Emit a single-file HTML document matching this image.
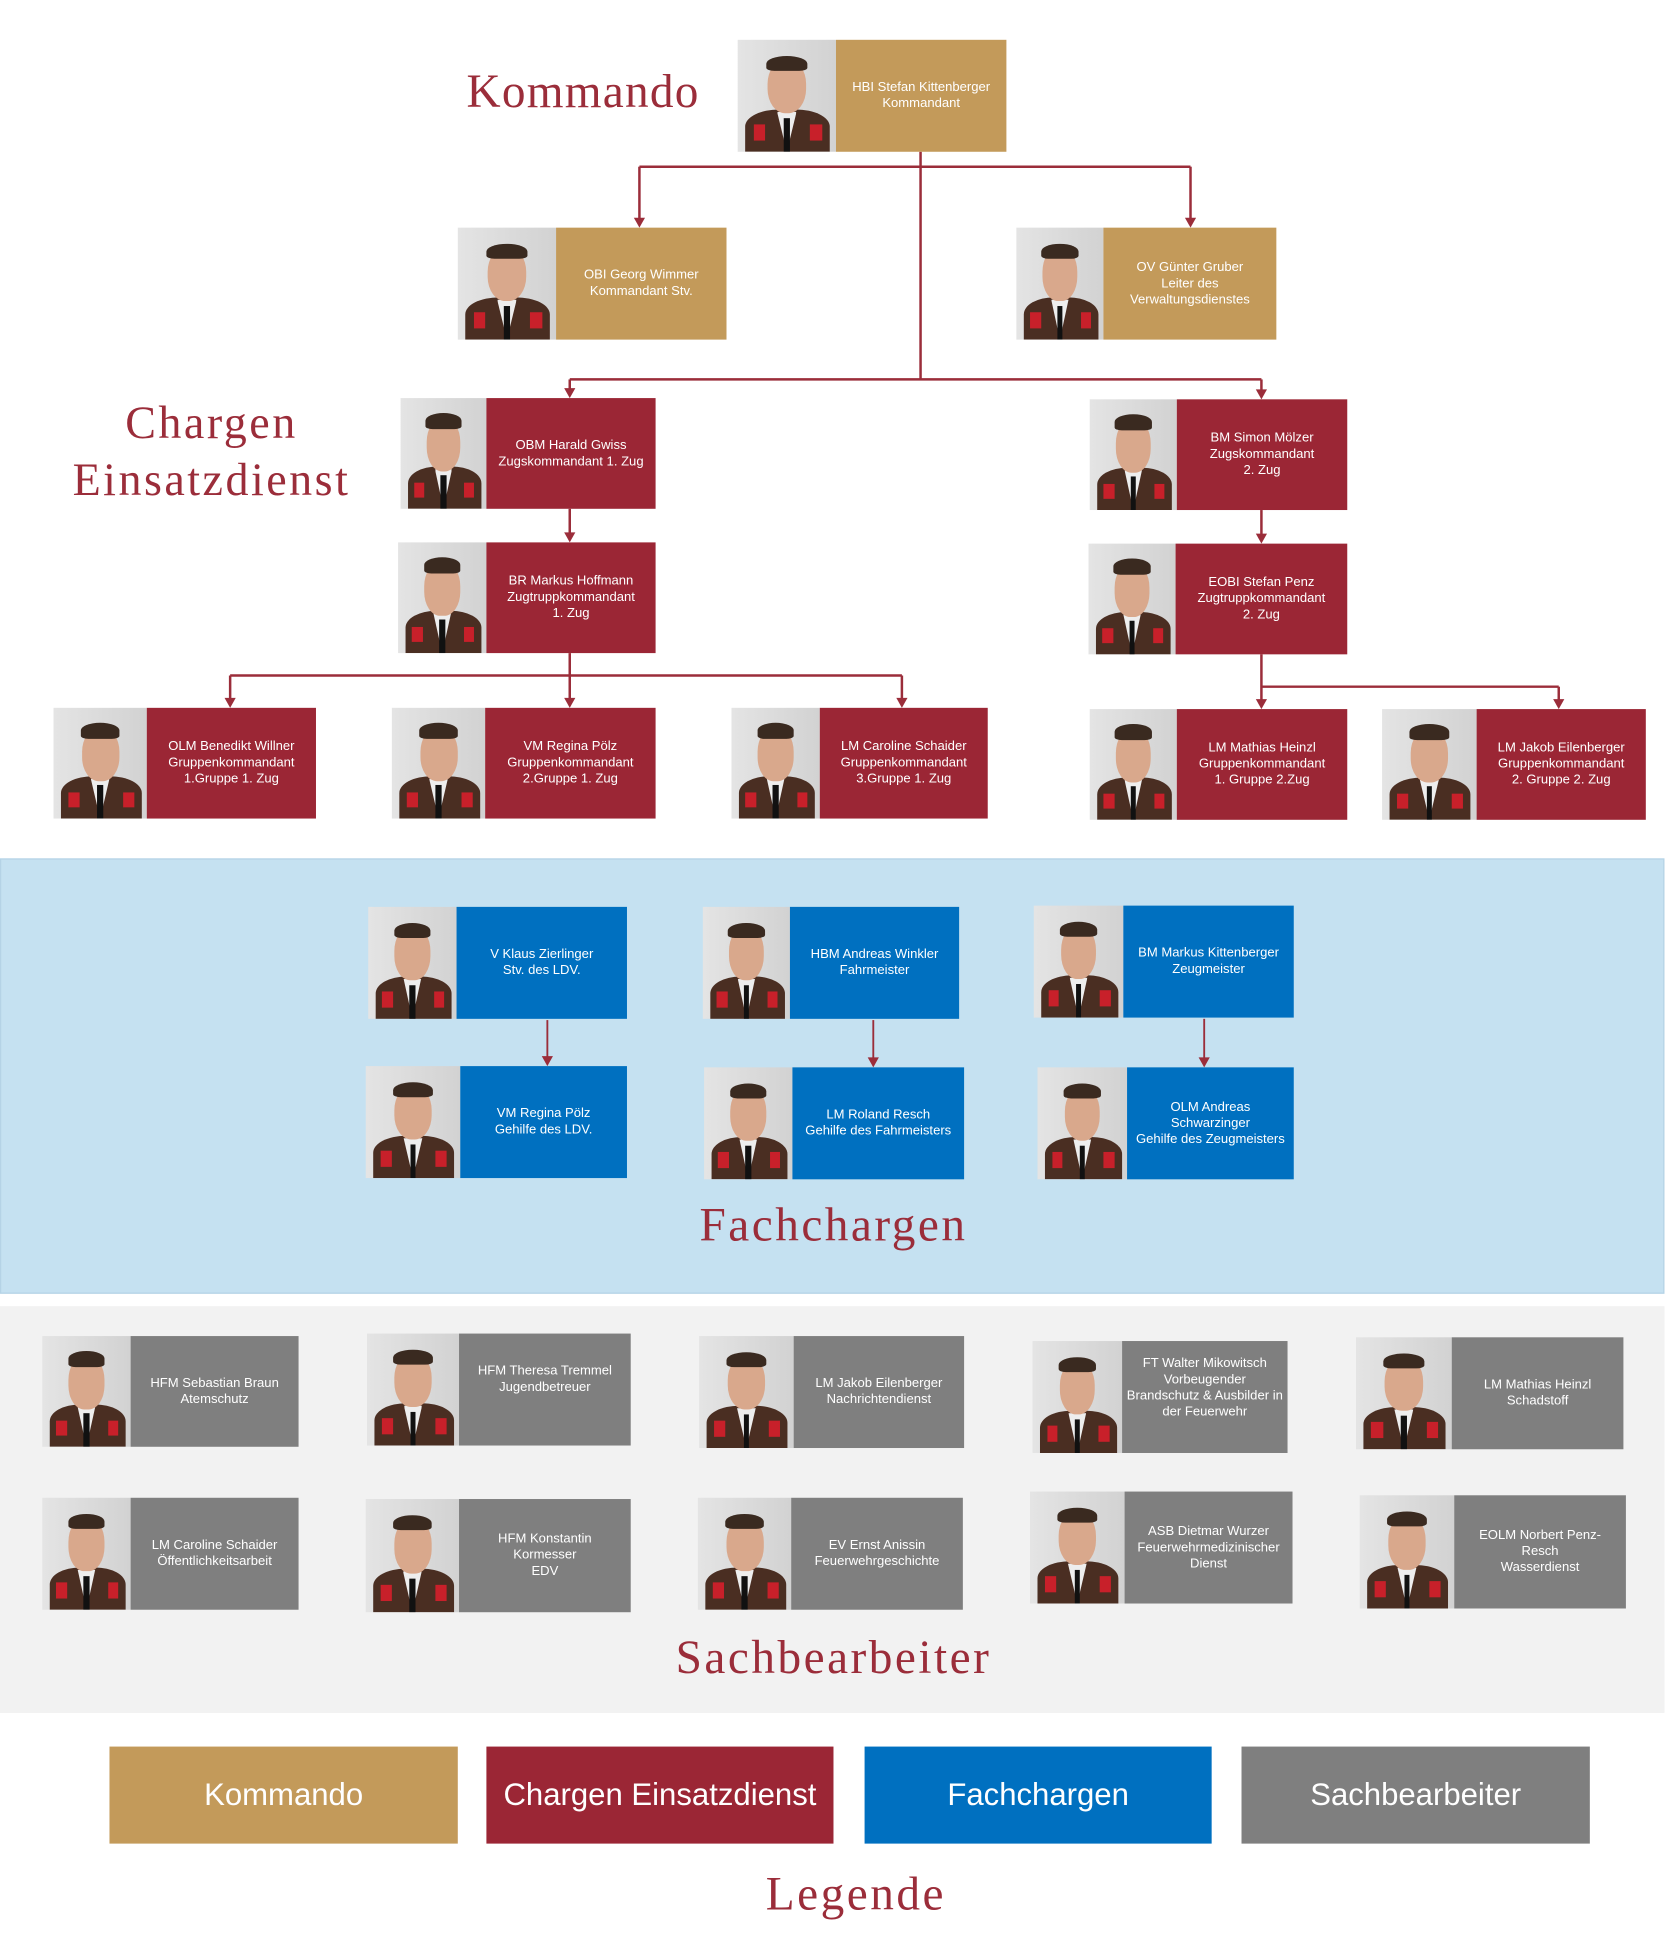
<!DOCTYPE html>
<html><head><meta charset="utf-8"><style>
html,body{margin:0;padding:0;background:#fff;width:1667px;height:1952px;overflow:hidden}
#w{position:absolute;left:0;top:0;width:1340px;height:1569px;transform:scale(1.2440,1.2440);transform-origin:0 0}
.a{position:absolute}
.ph{position:absolute;overflow:hidden;background:linear-gradient(90deg,#e4e4e4,#d2d2d2)}
.ph .bd{position:absolute;left:8%;right:6%;bottom:0;height:38%;background:#4a2e22;border-radius:40% 40% 0 0}
.ph .sh{position:absolute;left:40%;width:20%;bottom:0;height:36%;background:#eee;clip-path:polygon(0 0,100% 0,50% 100%)}
.ph .ti{position:absolute;left:47%;width:6%;bottom:0;height:30%;background:#111}
.ph .fc{position:absolute;left:30%;width:40%;top:18%;height:48%;background:#d9a88c;border-radius:45%}
.ph .hr{position:absolute;left:29%;width:42%;top:14%;height:14%;background:#3a2a20;border-radius:50% 50% 20% 20%}
.ph .c1,.ph .c2{position:absolute;bottom:10%;width:12%;height:14%;background:#c8202a}
.ph .c1{left:16%}.ph .c2{right:14%}
.tx{position:absolute;color:#fff;font-family:"Liberation Sans",sans-serif;font-size:10.5px;line-height:13px;display:flex;align-items:center;justify-content:center;text-align:center}
.g{background:#c39a5a}.r{background:#9b2635}.b{background:#0070c0}.y{background:#7f7f7f}
.tt{position:absolute;font-family:"Liberation Serif",serif;color:#9b2d3a;letter-spacing:2px;white-space:nowrap;text-align:center}
.lg{position:absolute;color:#fff;font-family:"Liberation Sans",sans-serif;font-size:25px;display:flex;align-items:center;justify-content:center;top:1404px;height:78px}
</style></head><body><div id="w">

<div class="a" style="left:0;top:690px;width:1338px;height:350px;background:#c5e1f1;border:1px solid #b5d3e6;box-sizing:border-box"></div>
<div class="a" style="left:0;top:1050px;width:1338px;height:327px;background:#f2f2f2"></div>

<div class="tt" style="left:375px;top:52px;font-size:38px;letter-spacing:1px">Kommando</div>
<div class="tt" style="left:50px;top:318px;width:240px;font-size:37px;line-height:46px">Chargen<br>Einsatzdienst</div>
<div class="tt" style="left:520px;top:963px;width:300px;font-size:38px">Fachchargen</div>
<div class="tt" style="left:520px;top:1311px;width:300px;font-size:38px">Sachbearbeiter</div>
<div class="tt" style="left:560px;top:1501px;width:256px;font-size:38px">Legende</div>

<svg class="a" style="left:0;top:0" width="1340" height="1569">
<g stroke="#9b2d3a" stroke-width="2" fill="none">
<path d="M740,122 V305"/><path d="M514,134 H957"/>
<path d="M514,134 V176"/><path d="M957,134 V176"/>
<path d="M458,305 H1014"/>
<path d="M458,305 V313"/><path d="M1014,305 V314"/>
<path d="M458,409 V429"/><path d="M1014,410 V430"/>
<path d="M458,525 V562"/><path d="M185,543 H725"/>
<path d="M185,543 V562"/><path d="M725,543 V562"/>
<path d="M1014,526 V563"/><path d="M1014,552 H1253"/><path d="M1253,552 V563"/>
<path d="M440,820 V850" stroke-width="1.5"/>
<path d="M702,820 V851" stroke-width="1.5"/>
<path d="M968,819 V851" stroke-width="1.5"/>
</g>
<g fill="#9b2d3a">
<polygon points="509.5,175 518.5,175 514,183"/>
<polygon points="952.5,175 961.5,175 957,183"/>
<polygon points="453.5,312 462.5,312 458,320"/>
<polygon points="1009.5,313 1018.5,313 1014,321"/>
<polygon points="453.5,428 462.5,428 458,436"/>
<polygon points="1009.5,429 1018.5,429 1014,437"/>
<polygon points="453.5,561 462.5,561 458,569"/>
<polygon points="180.5,561 189.5,561 185,569"/>
<polygon points="720.5,561 729.5,561 725,569"/>
<polygon points="1009.5,562 1018.5,562 1014,570"/>
<polygon points="1248.5,562 1257.5,562 1253,570"/>
<polygon points="435.5,849 444.5,849 440,857"/>
<polygon points="697.5,850 706.5,850 702,858"/>
<polygon points="963.5,850 972.5,850 968,858"/>
</g></svg>

<div class="ph" style="left:593px;top:32px;width:79px;height:90px"><div class="bd"></div><div class="sh"></div><div class="ti"></div><div class="c1"></div><div class="c2"></div><div class="fc"></div><div class="hr"></div></div>
<div class="tx g" style="left:672px;top:32px;width:137px;height:90px">HBI Stefan Kittenberger<br>Kommandant</div>

<div class="ph" style="left:368px;top:183px;width:79px;height:90px"><div class="bd"></div><div class="sh"></div><div class="ti"></div><div class="c1"></div><div class="c2"></div><div class="fc"></div><div class="hr"></div></div>
<div class="tx g" style="left:447px;top:183px;width:137px;height:90px">OBI Georg Wimmer<br>Kommandant Stv.</div>

<div class="ph" style="left:817px;top:183px;width:70px;height:90px"><div class="bd"></div><div class="sh"></div><div class="ti"></div><div class="c1"></div><div class="c2"></div><div class="fc"></div><div class="hr"></div></div>
<div class="tx g" style="left:887px;top:183px;width:139px;height:90px">OV Günter Gruber<br>Leiter des<br>Verwaltungsdienstes</div>

<div class="ph" style="left:322px;top:320px;width:69px;height:89px"><div class="bd"></div><div class="sh"></div><div class="ti"></div><div class="c1"></div><div class="c2"></div><div class="fc"></div><div class="hr"></div></div>
<div class="tx r" style="left:391px;top:320px;width:136px;height:89px">OBM Harald Gwiss<br>Zugskommandant 1. Zug</div>

<div class="ph" style="left:876px;top:321px;width:70px;height:89px"><div class="bd"></div><div class="sh"></div><div class="ti"></div><div class="c1"></div><div class="c2"></div><div class="fc"></div><div class="hr"></div></div>
<div class="tx r" style="left:946px;top:321px;width:137px;height:89px">BM Simon Mölzer<br>Zugskommandant<br>2. Zug</div>

<div class="ph" style="left:320px;top:436px;width:71px;height:89px"><div class="bd"></div><div class="sh"></div><div class="ti"></div><div class="c1"></div><div class="c2"></div><div class="fc"></div><div class="hr"></div></div>
<div class="tx r" style="left:391px;top:436px;width:136px;height:89px">BR Markus Hoffmann<br>Zugtruppkommandant<br>1. Zug</div>

<div class="ph" style="left:875px;top:437px;width:70px;height:89px"><div class="bd"></div><div class="sh"></div><div class="ti"></div><div class="c1"></div><div class="c2"></div><div class="fc"></div><div class="hr"></div></div>
<div class="tx r" style="left:945px;top:437px;width:138px;height:89px">EOBI Stefan Penz<br>Zugtruppkommandant<br>2. Zug</div>

<div class="ph" style="left:43px;top:569px;width:75px;height:89px"><div class="bd"></div><div class="sh"></div><div class="ti"></div><div class="c1"></div><div class="c2"></div><div class="fc"></div><div class="hr"></div></div>
<div class="tx r" style="left:118px;top:569px;width:136px;height:89px">OLM Benedikt Willner<br>Gruppenkommandant<br>1.Gruppe 1. Zug</div>

<div class="ph" style="left:315px;top:569px;width:75px;height:89px"><div class="bd"></div><div class="sh"></div><div class="ti"></div><div class="c1"></div><div class="c2"></div><div class="fc"></div><div class="hr"></div></div>
<div class="tx r" style="left:390px;top:569px;width:137px;height:89px">VM Regina Pölz<br>Gruppenkommandant<br>2.Gruppe 1. Zug</div>

<div class="ph" style="left:588px;top:569px;width:71px;height:89px"><div class="bd"></div><div class="sh"></div><div class="ti"></div><div class="c1"></div><div class="c2"></div><div class="fc"></div><div class="hr"></div></div>
<div class="tx r" style="left:659px;top:569px;width:135px;height:89px">LM Caroline Schaider<br>Gruppenkommandant<br>3.Gruppe 1. Zug</div>

<div class="ph" style="left:876px;top:570px;width:70px;height:89px"><div class="bd"></div><div class="sh"></div><div class="ti"></div><div class="c1"></div><div class="c2"></div><div class="fc"></div><div class="hr"></div></div>
<div class="tx r" style="left:946px;top:570px;width:137px;height:89px">LM Mathias Heinzl<br>Gruppenkommandant<br>1. Gruppe 2.Zug</div>

<div class="ph" style="left:1111px;top:570px;width:76px;height:89px"><div class="bd"></div><div class="sh"></div><div class="ti"></div><div class="c1"></div><div class="c2"></div><div class="fc"></div><div class="hr"></div></div>
<div class="tx r" style="left:1187px;top:570px;width:136px;height:89px">LM Jakob Eilenberger<br>Gruppenkommandant<br>2. Gruppe 2. Zug</div>

<div class="ph" style="left:296px;top:729px;width:71px;height:90px"><div class="bd"></div><div class="sh"></div><div class="ti"></div><div class="c1"></div><div class="c2"></div><div class="fc"></div><div class="hr"></div></div>
<div class="tx b" style="left:367px;top:729px;width:137px;height:90px">V Klaus Zierlinger<br>Stv. des LDV.</div>

<div class="ph" style="left:565px;top:729px;width:70px;height:90px"><div class="bd"></div><div class="sh"></div><div class="ti"></div><div class="c1"></div><div class="c2"></div><div class="fc"></div><div class="hr"></div></div>
<div class="tx b" style="left:635px;top:729px;width:136px;height:90px">HBM Andreas Winkler<br>Fahrmeister</div>

<div class="ph" style="left:831px;top:728px;width:72px;height:90px"><div class="bd"></div><div class="sh"></div><div class="ti"></div><div class="c1"></div><div class="c2"></div><div class="fc"></div><div class="hr"></div></div>
<div class="tx b" style="left:903px;top:728px;width:137px;height:90px">BM Markus Kittenberger<br>Zeugmeister</div>

<div class="ph" style="left:294px;top:857px;width:76px;height:90px"><div class="bd"></div><div class="sh"></div><div class="ti"></div><div class="c1"></div><div class="c2"></div><div class="fc"></div><div class="hr"></div></div>
<div class="tx b" style="left:370px;top:857px;width:134px;height:90px">VM Regina Pölz<br>Gehilfe des LDV.</div>

<div class="ph" style="left:566px;top:858px;width:71px;height:90px"><div class="bd"></div><div class="sh"></div><div class="ti"></div><div class="c1"></div><div class="c2"></div><div class="fc"></div><div class="hr"></div></div>
<div class="tx b" style="left:637px;top:858px;width:138px;height:90px">LM Roland Resch<br>Gehilfe des Fahrmeisters</div>

<div class="ph" style="left:834px;top:858px;width:72px;height:90px"><div class="bd"></div><div class="sh"></div><div class="ti"></div><div class="c1"></div><div class="c2"></div><div class="fc"></div><div class="hr"></div></div>
<div class="tx b" style="left:906px;top:858px;width:134px;height:90px">OLM Andreas<br>Schwarzinger<br>Gehilfe des Zeugmeisters</div>

<div class="ph" style="left:34px;top:1074px;width:71px;height:89px"><div class="bd"></div><div class="sh"></div><div class="ti"></div><div class="c1"></div><div class="c2"></div><div class="fc"></div><div class="hr"></div></div>
<div class="tx y" style="left:105px;top:1074px;width:135px;height:89px">HFM Sebastian Braun<br>Atemschutz</div>

<div class="ph" style="left:295px;top:1072px;width:74px;height:90px"><div class="bd"></div><div class="sh"></div><div class="ti"></div><div class="c1"></div><div class="c2"></div><div class="fc"></div><div class="hr"></div></div>
<div class="tx y" style="left:369px;top:1072px;width:138px;height:90px;padding-bottom:16px;box-sizing:border-box">HFM Theresa Tremmel<br>Jugendbetreuer</div>

<div class="ph" style="left:562px;top:1074px;width:76px;height:90px"><div class="bd"></div><div class="sh"></div><div class="ti"></div><div class="c1"></div><div class="c2"></div><div class="fc"></div><div class="hr"></div></div>
<div class="tx y" style="left:638px;top:1074px;width:137px;height:90px">LM Jakob Eilenberger<br>Nachrichtendienst</div>

<div class="ph" style="left:830px;top:1078px;width:72px;height:90px"><div class="bd"></div><div class="sh"></div><div class="ti"></div><div class="c1"></div><div class="c2"></div><div class="fc"></div><div class="hr"></div></div>
<div class="tx y" style="left:902px;top:1078px;width:133px;height:90px;padding-bottom:14px;box-sizing:border-box">FT Walter Mikowitsch<br>Vorbeugender<br>Brandschutz &amp; Ausbilder in<br>der Feuerwehr</div>

<div class="ph" style="left:1090px;top:1075px;width:77px;height:90px"><div class="bd"></div><div class="sh"></div><div class="ti"></div><div class="c1"></div><div class="c2"></div><div class="fc"></div><div class="hr"></div></div>
<div class="tx y" style="left:1167px;top:1075px;width:138px;height:90px">LM Mathias Heinzl<br>Schadstoff</div>

<div class="ph" style="left:34px;top:1204px;width:71px;height:90px"><div class="bd"></div><div class="sh"></div><div class="ti"></div><div class="c1"></div><div class="c2"></div><div class="fc"></div><div class="hr"></div></div>
<div class="tx y" style="left:105px;top:1204px;width:135px;height:90px">LM Caroline Schaider<br>Öffentlichkeitsarbeit</div>

<div class="ph" style="left:294px;top:1205px;width:75px;height:91px"><div class="bd"></div><div class="sh"></div><div class="ti"></div><div class="c1"></div><div class="c2"></div><div class="fc"></div><div class="hr"></div></div>
<div class="tx y" style="left:369px;top:1205px;width:138px;height:91px">HFM Konstantin<br>Kormesser<br>EDV</div>

<div class="ph" style="left:561px;top:1204px;width:75px;height:90px"><div class="bd"></div><div class="sh"></div><div class="ti"></div><div class="c1"></div><div class="c2"></div><div class="fc"></div><div class="hr"></div></div>
<div class="tx y" style="left:636px;top:1204px;width:138px;height:90px">EV Ernst Anissin<br>Feuerwehrgeschichte</div>

<div class="ph" style="left:828px;top:1199px;width:76px;height:90px"><div class="bd"></div><div class="sh"></div><div class="ti"></div><div class="c1"></div><div class="c2"></div><div class="fc"></div><div class="hr"></div></div>
<div class="tx y" style="left:904px;top:1199px;width:135px;height:90px">ASB Dietmar Wurzer<br>Feuerwehrmedizinischer<br>Dienst</div>

<div class="ph" style="left:1093px;top:1202px;width:76px;height:91px"><div class="bd"></div><div class="sh"></div><div class="ti"></div><div class="c1"></div><div class="c2"></div><div class="fc"></div><div class="hr"></div></div>
<div class="tx y" style="left:1169px;top:1202px;width:138px;height:91px">EOLM Norbert Penz-<br>Resch<br>Wasserdienst</div>

<div class="lg g" style="left:88px;width:280px">Kommando</div>
<div class="lg r" style="left:391px;width:279px">Chargen Einsatzdienst</div>
<div class="lg b" style="left:695px;width:279px">Fachchargen</div>
<div class="lg y" style="left:998px;width:280px">Sachbearbeiter</div>

</div></body></html>
